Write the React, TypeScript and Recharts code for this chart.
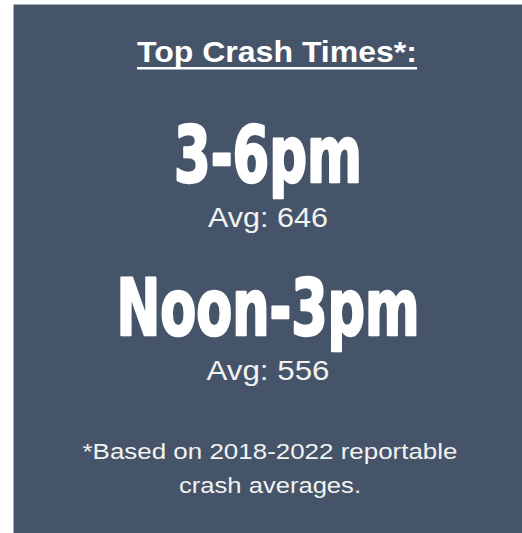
import { Surface, Rectangle } from 'recharts'

const title = 'Top Crash Times*:'
const timeSlots = ['3-6pm', 'Noon-3pm']
const averages = [646, 556]
const footnote = ['*Based on 2018-2022 reportable', 'crash averages.']

// layout for each ranked slot
const slotY = [182, 335]
const slotWidth = [188, 303]
const avgWidth = [120, 123]
const footWidth = [375, 182]

const W = 522
const H = 533
const PANEL = '#455469'

export default function App() {
  const cx = 268
  return (
    <div style={{ position: 'fixed', left: 0, top: 0, width: W, height: H, background: '#fff' }}>
      <Surface width={W} height={H} viewBox={{ x: 0, y: 0, width: W, height: H }}>
        <Rectangle x={13} y={4} width={W - 13} height={H - 4} fill={PANEL} />
        <line x1={13.5} y1={4} x2={13.5} y2={H} stroke="#a9afb8" strokeWidth={1} />
        <line x1={13} y1={4.5} x2={W} y2={4.5} stroke="#a9afb8" strokeWidth={1} />

        <text
          x={277}
          y={62}
          textAnchor="middle"
          fill="#ffffff"
          fontFamily="Liberation Sans, Arial, sans-serif"
          fontWeight="bold"
          fontSize={30}
          textLength={280}
          lengthAdjust="spacingAndGlyphs"
        >
          {title}
        </text>
        <rect x={137} y={67} width={280} height={2.5} fill="#ffffff" />

        {timeSlots.map((slot, i) => (
          <g key={slot}>
            <text
              x={cx}
              y={slotY[i]}
              textAnchor="middle"
              fill="#ffffff"
              stroke="#ffffff"
              strokeWidth={2.5}
              strokeLinejoin="round"
              fontFamily="DejaVu Sans Condensed, DejaVu Sans, sans-serif"
              fontStretch="condensed"
              fontWeight="bold"
              fontSize={79}
              textLength={slotWidth[i]}
              lengthAdjust="spacingAndGlyphs"
            >
              {slot}
            </text>
            <text
              x={cx}
              y={slotY[i] + 45}
              textAnchor="middle"
              fill="#f2f2f2"
              fontFamily="Liberation Sans, Arial, sans-serif"
              fontSize={28}
              textLength={avgWidth[i]}
              lengthAdjust="spacingAndGlyphs"
            >
              {`Avg: ${averages[i]}`}
            </text>
          </g>
        ))}

        {footnote.map((line, i) => (
          <text
            key={line}
            x={270}
            y={459 + i * 34}
            textAnchor="middle"
            fill="#f2f2f2"
            fontFamily="Liberation Sans, Arial, sans-serif"
            fontSize={22}
            textLength={footWidth[i]}
            lengthAdjust="spacingAndGlyphs"
          >
            {line}
          </text>
        ))}
      </Surface>
    </div>
  )
}
